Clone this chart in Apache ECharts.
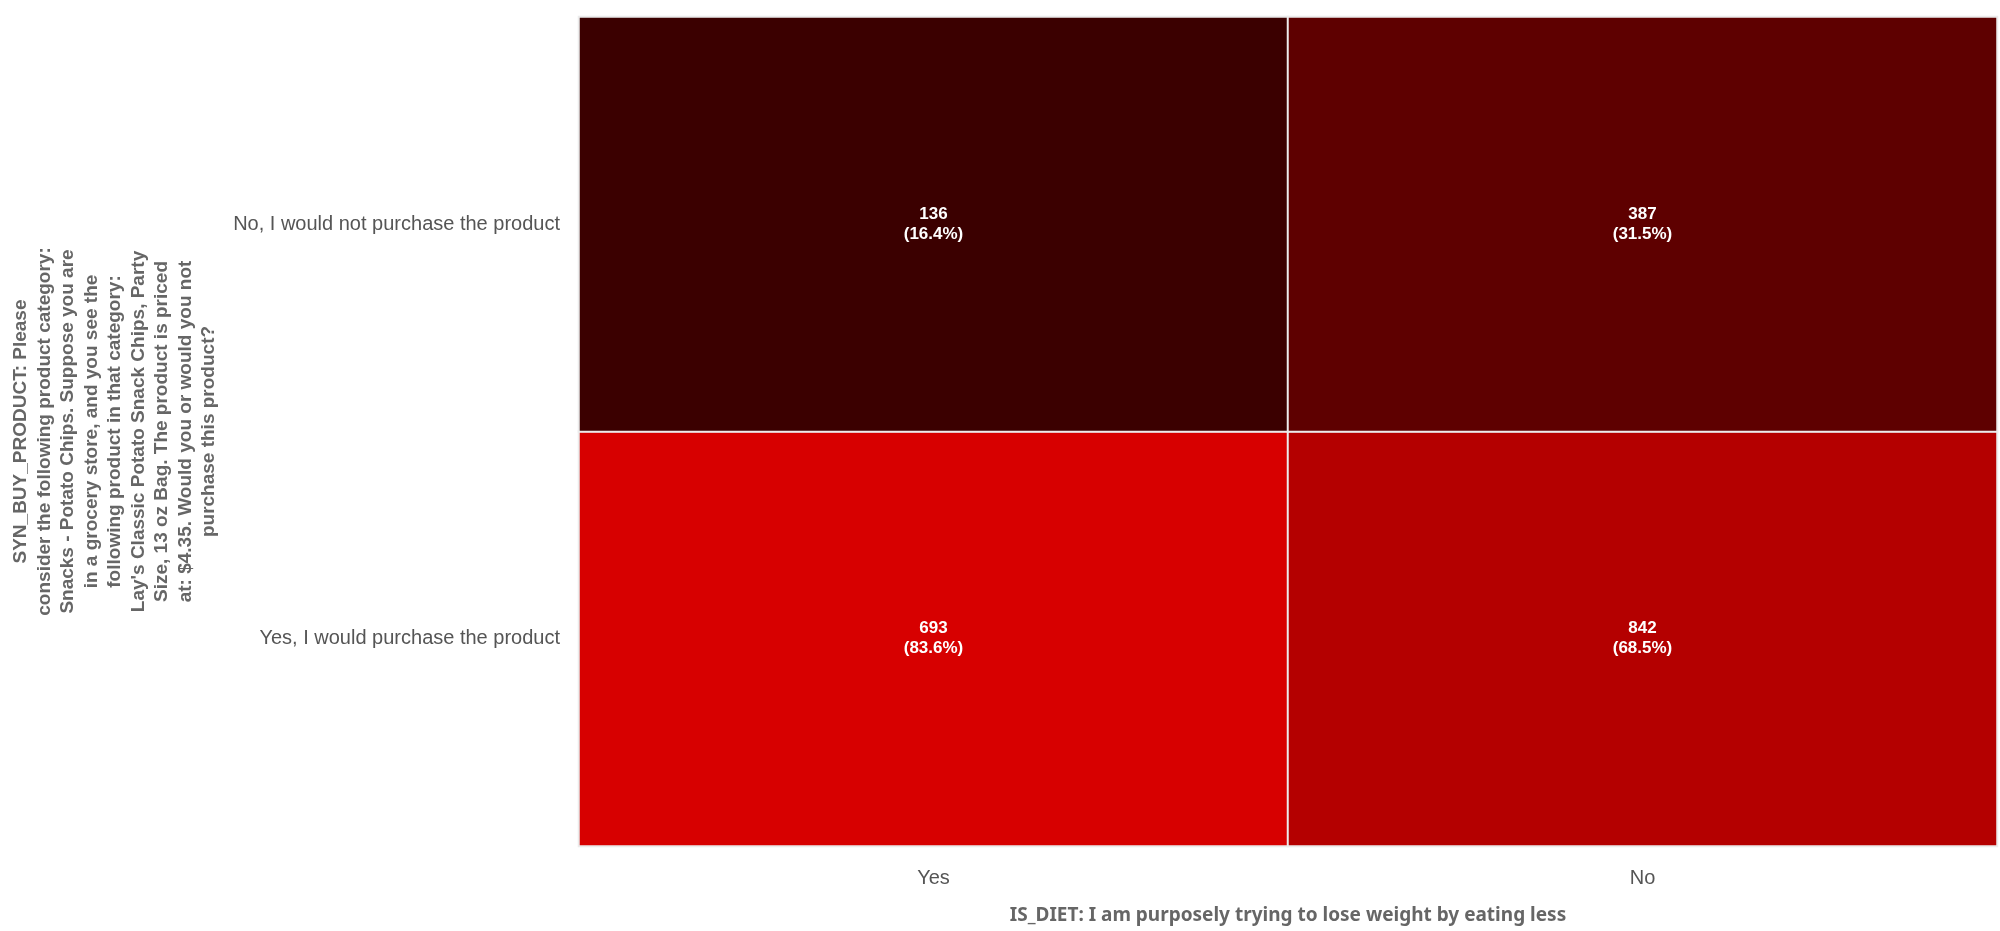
<!DOCTYPE html>
<html>
<head>
<meta charset="utf-8">
<script src="https://cdn.jsdelivr.net/npm/echarts@6/dist/echarts.min.js"></script>
<style>html,body{margin:0;padding:0;background:#fff}#c{width:2000px;height:931px}</style>
</head>
<body>
<div id="c"></div>
<script>
const xCategories = ['Yes', 'No'];
const yCategories = ['Yes, I would purchase the product', 'No, I would not purchase the product'];
// counts[yIndex][xIndex]
const counts = [[693, 842], [136, 387]];
const percents = [[83.6, 68.5], [16.4, 31.5]];
const xName = 'IS_DIET: I am purposely trying to lose weight by eating less';
const yNameLines = [
  'SYN_BUY_PRODUCT: Please',
  'consider the following product category:',
  'Snacks - Potato Chips. Suppose you are',
  'in a grocery store, and you see the',
  'following product in that category:',
  "Lay's Classic Potato Snack Chips, Party",
  'Size, 13 oz Bag. The product is priced',
  'at: $4.35. Would you or would you not',
  'purchase this product?'
];

const data = [];
for (let yi = 0; yi < yCategories.length; yi++) {
  for (let xi = 0; xi < xCategories.length; xi++) {
    data.push({ value: [xi, yi, percents[yi][xi]], count: counts[yi][xi] });
  }
}

const chart = echarts.init(document.getElementById('c'));
chart.setOption({
  animation: false,
  grid: { left: 579, right: 3, top: 17, bottom: 85, show: true, borderColor: '#c4c4c4', borderWidth: 2, containLabel: false, outerBoundsMode: 'none' },
  xAxis: {
    type: 'category', data: xCategories,
    axisLine: { show: false }, axisTick: { show: false }, splitLine: { show: false },
    axisLabel: { fontFamily: 'Liberation Sans', fontSize: 20, color: '#555', margin: 22 },
    name: xName, nameLocation: 'middle', nameGap: 60,
    nameTextStyle: { fontFamily: 'Noto Sans', fontWeight: 'bold', fontSize: 19, color: '#666' }
  },
  yAxis: {
    type: 'category', data: yCategories,
    axisLine: { show: false }, axisTick: { show: false }, splitLine: { show: false },
    axisLabel: { fontFamily: 'Liberation Sans', fontSize: 20, color: '#555', margin: 19 },
    name: yNameLines.join('\n'), nameLocation: 'middle', nameGap: 358, nameRotate: 90,
    nameTextStyle: { fontFamily: 'Liberation Sans', fontWeight: 'bold', fontSize: 19, lineHeight: 23.5, color: '#666', align: 'center' }
  },
  visualMap: {
    show: false, type: 'continuous', dimension: 2,
    min: 16.4, max: 83.6,
    inRange: { color: ['#3b0000', '#d70000'] }
  },
  series: [{
    type: 'heatmap',
    data: data,
    itemStyle: { borderColor: '#ececec', borderWidth: 2 },
    label: {
      show: true, color: '#fff', fontFamily: 'Liberation Sans', fontWeight: 'bold', fontSize: 17, lineHeight: 20,
      formatter: p => p.data.count + '\n(' + p.data.value[2].toFixed(1) + '%)'
    },
    emphasis: { disabled: true }
  }]
});
</script>
</body>
</html>
